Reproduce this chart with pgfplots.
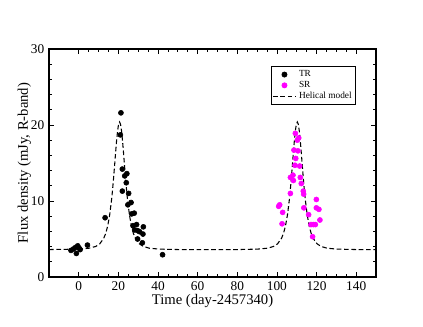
\documentclass[border=0pt]{standalone}
\usepackage{pgfplots}
\pgfplotsset{compat=1.18}
\usepackage{fontspec}
\setmainfont{Liberation Serif}
\definecolor{srmag}{RGB}{255,0,255}
\begin{document}
\begin{tikzpicture}
\path[use as bounding box] (-36.75pt,-37.5pt) rectangle (280.5pt,207.75pt);
\begin{axis}[
  scale only axis,
  width=245.25pt, height=171pt,
  xmin=-15, xmax=150, ymin=0, ymax=30,
  xtick={0,20,...,140}, ytick={0,10,20,30},
  minor x tick num=3, minor y tick num=4,
  tick align=inside,
  major tick length=4pt, minor tick length=2pt,
  axis line style={line width=0.8pt},
  every tick/.style={black, line width=0.5pt},
  /pgf/number format/assume math mode=true,
  tick label style={font=\fontsize{10}{12}\selectfont},
  label style={font=\fontsize{11}{13}\selectfont},
  xlabel={Time (day-2457340)},
  ylabel={Flux density (mJy, R-band)},
  xlabel style={yshift=4pt},
  ylabel style={yshift=-7pt},
  legend style={at={(0.939,0.925)}, anchor=north east, draw=black, line width=0.6pt,
    font=\fontsize{7}{8}\selectfont, inner sep=1pt, row sep=-2pt, cells={anchor=west}},
  legend cell align=left,
]
\addplot[only marks, mark=*, mark size=1.9pt, black] coordinates {
  (-3.9,3.5) (-2.6,3.7) (-1.6,3.9) (-0.5,4.1) (-1.2,3.1) (0.7,3.6) (0.2,3.8)
  (4.4,4.2) (13.3,7.8) (21.3,21.6) (21.0,18.7) (22.0,14.2) (22.0,11.3)
  (23.2,13.3) (24.3,13.6) (24.0,12.4) (25.2,11.0) (24.8,9.5) (26.4,9.8)
  (26.7,8.3) (28.0,8.4) (27.4,6.75) (29.2,6.9) (28.2,6.2) (29.7,6.1)
  (30.7,5.96) (29.7,5.0) (32.4,5.65) (32.6,6.6) (32.1,4.5) (42.3,2.93)
};
\addlegendentry{TR}
\addplot[only marks, mark=*, mark size=1.9pt, srmag] coordinates {
  (100.9,9.3) (101.4,9.5) (102.9,8.5) (102.6,7.0) (106.8,11.0) (106.8,13.1)
  (108.1,13.4) (108.3,12.7) (108.6,16.7) (109.1,14.7) (109.5,15.6) (109.3,18.9)
  (110.3,18.0) (111.0,18.3) (110.6,16.6) (111.5,14.6) (111.8,13.1) (112.3,12.3)
  (113.3,11.3) (113.5,10.9) (113.6,9.1) (116.0,8.2) (117.2,6.9) (118.4,6.9)
  (119.4,6.9) (118.0,5.3) (119.9,10.2) (119.9,9.1) (121.2,8.9) (121.7,7.5)
};
\addlegendentry{SR}
\addplot[black, line width=0.8pt, dash pattern=on 3.5pt off 2pt] coordinates {
  (-15,3.61) (0,3.67) (5,3.78) (8.6,4.02) (10.6,4.36) (12.6,5.08) (13.6,5.72)
  (14.6,6.69) (15.6,8.14) (16.6,10.23) (17.1,11.56) (17.6,13.06) (18.1,14.68)
  (18.6,16.35) (19.1,17.92) (19.6,19.22) (20.1,20.09) (20.6,20.4)
  (21.1,20.09) (21.6,19.22) (22.1,17.92) (22.6,16.35) (23.1,14.68) (23.6,13.06)
  (24.1,11.56) (24.6,10.23) (25.6,8.14) (26.6,6.69) (27.6,5.72) (28.6,5.08)
  (30.6,4.36) (32.6,4.02) (35.6,3.79) (40.6,3.67) (50.6,3.61) (65,3.6)
  (80.3,3.61) (90.3,3.67) (95.3,3.79) (98.3,4.02) (100.3,4.36) (102.3,5.08)
  (103.3,5.72) (104.3,6.69) (105.3,8.14) (106.3,10.23) (106.8,11.56)
  (107.3,13.06) (107.8,14.68) (108.3,16.35) (108.8,17.92) (109.3,19.22)
  (109.8,20.09) (110.3,20.4) (110.8,20.09) (111.3,19.22) (111.8,17.92)
  (112.3,16.35) (112.8,14.68) (113.3,13.06) (113.8,11.56) (114.3,10.23)
  (115.3,8.14) (116.3,6.69) (117.3,5.72) (118.3,5.08) (120.3,4.36)
  (122.3,4.02) (125.3,3.79) (130.3,3.67) (140.3,3.61) (150,3.6)
};
\addlegendentry{Helical model}
\end{axis}
\end{tikzpicture}
\end{document}
